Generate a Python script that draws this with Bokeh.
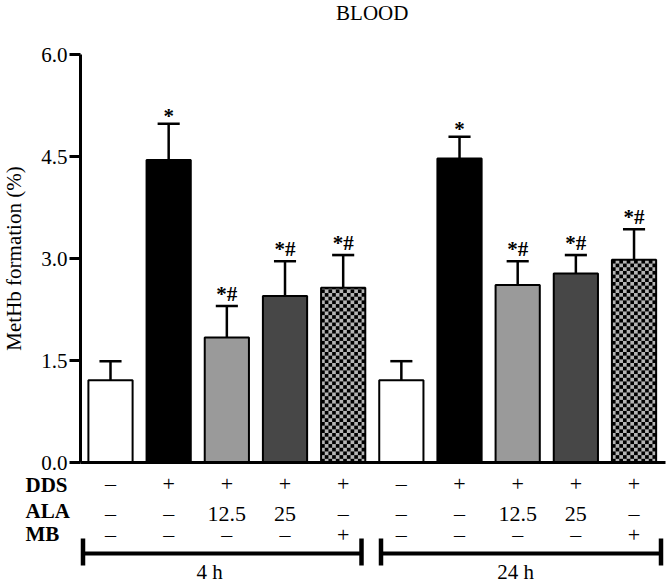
import math
from bokeh.plotting import figure
from bokeh.models import Range1d, LinearAxis, FixedTicker, PrintfTickFormatter
from bokeh.core.properties import value
from bokeh.embed import file_html
from bokeh.resources import INLINE

# ---------------- data ----------------
groups = ["4 h", "24 h"]
conditions = ["Control", "DDS", "DDS+ALA12.5", "DDS+ALA25", "DDS+MB"] * 2
metHb = [1.21, 4.45, 1.84, 2.45, 2.57, 1.21, 4.47, 2.61, 2.78, 2.98]
sem = [0.28, 0.53, 0.46, 0.51, 0.48, 0.28, 0.32, 0.35, 0.27, 0.45]
signif = ["", "*", "*#", "*#", "*#", "", "*", "*#", "*#", "*#"]
row_names = ["DDS", "ALA", "MB"]
dds_row = ["\u2013", "+", "+", "+", "+", "\u2013", "+", "+", "+", "+"]
ala_row = ["\u2013", "\u2013", "12.5", "25", "\u2013", "\u2013", "\u2013", "12.5", "25", "\u2013"]
mb_row = ["\u2013", "\u2013", "\u2013", "\u2013", "+", "\u2013", "\u2013", "\u2013", "\u2013", "+"]
y_ticks = [0.0, 1.5, 3.0, 4.5, 6.0]

# ---------------- styling ----------------
FONT = "Liberation Serif"
fills = ["white", "black", "#9a9a9a", "#474747", "#b4b4b4"] * 2
checker = [False, False, False, False, True] * 2

W, H = 666, 582
AXIS_PX = 80
AXIS_END_PX = 665
PX_PER_Y = 68.0
Y_ZERO_PX = 462
SPACING_PX = 58.17
FIRST_BAR_PX = 110

y0 = -(H - Y_ZERO_PX) / PX_PER_Y
y1 = Y_ZERO_PX / PX_PER_Y
x0 = -FIRST_BAR_PX / SPACING_PX
x1 = x0 + W / SPACING_PX


def py(px):
    """screen y (px from top) -> data y"""
    return (Y_ZERO_PX - px) / PX_PER_Y


def pxx(px):
    """screen x (px from left) -> data x"""
    return (px - FIRST_BAR_PX) / SPACING_PX


p = figure(width=W, height=H, x_range=Range1d(x0, x1), y_range=Range1d(y0, y1),
           x_axis_type=None, y_axis_type=None, toolbar_location=None,
           output_backend="svg", min_border_left=0, min_border_right=0,
           min_border_top=0, min_border_bottom=0, outline_line_color=None,
           background_fill_color="white", border_fill_color="white")

xs = list(range(len(metHb)))
BW = 0.76

# bars (fill)
p.vbar(x=xs, top=metHb, bottom=0, width=BW, fill_color=fills, line_color=None)

# checker pattern
NCOL = 12
cw = BW / NCOL
ch = (BW * SPACING_PX / NCOL) / PX_PER_Y
ql, qr, qb, qt = [], [], [], []
for i, (v, ck) in enumerate(zip(metHb, checker)):
    if not ck:
        continue
    nrows = math.ceil(v / ch)
    for r in range(nrows):
        for c in range(NCOL):
            if (r + c) % 2 == 0:
                ql.append(i - BW / 2 + c * cw)
                qr.append(i - BW / 2 + (c + 1) * cw)
                qb.append(r * ch)
                qt.append(min((r + 1) * ch, v))
p.quad(left=ql, right=qr, bottom=qb, top=qt, fill_color="black", line_color=None)

# bar outlines
p.vbar(x=xs, top=metHb, bottom=0, width=BW, fill_color=None, line_color="black", line_width=2)

# error bars (upper only)
upper = [v + e for v, e in zip(metHb, sem)]
p.segment(x0=xs, y0=metHb, x1=xs, y1=upper, line_color="black", line_width=2.5)
CAP = 0.38
p.segment(x0=[x - CAP / 2 for x in xs], y0=upper, x1=[x + CAP / 2 for x in xs], y1=upper,
          line_color="black", line_width=2.5)

# significance marks
p.text(x=xs, y=upper, text=signif, text_font=value(FONT), text_font_size="21px",
       text_font_style="bold", text_align="center", text_baseline="bottom",
       y_offset=[4 if s == "*" else 0 for s in signif], text_color="black")

# x axis line
p.segment(x0=[pxx(AXIS_PX)], y0=[0], x1=[pxx(AXIS_END_PX)], y1=[0],
          line_color="black", line_width=3)

# y axis (drawn at a fixed location inside the frame)
yax = LinearAxis(bounds=(0, 6), ticker=FixedTicker(ticks=y_ticks),
                 formatter=PrintfTickFormatter(format="%.1f"),
                 axis_label="MetHb formation (%)", fixed_location=pxx(AXIS_PX))
yax.axis_line_width = 3
yax.major_tick_line_width = 3
yax.major_tick_out = 11
yax.major_tick_in = 0
yax.minor_tick_out = 0
yax.minor_tick_in = 0
yax.major_label_standoff = 2
yax.major_label_text_font = FONT
yax.major_label_text_font_size = "21px"
yax.major_label_text_color = "black"
yax.axis_label_text_font = FONT
yax.axis_label_text_font_size = "21px"
yax.axis_label_text_font_style = "normal"
yax.axis_label_text_color = "black"
yax.axis_label_standoff = 12
p.add_layout(yax, "left")

# title
p.text(x=[(xs[0] + xs[-1]) / 2], y=[py(12)], text=["BLOOD"], text_font=value(FONT),
       text_font_size="21px", text_align="center", text_baseline="middle",
       text_color="black")

# treatment table
sym_mid_px = [483, 513, 534]
lab_mid_px = [484.5, 510.5, 533.5]
for row, mpx in zip([dds_row, ala_row, mb_row], sym_mid_px):
    p.text(x=xs, y=[py(mpx)] * len(xs), text=row, text_font=value(FONT),
           text_font_size="22px", text_align="center", text_baseline="middle",
           text_color="black")
p.text(x=[pxx(25)] * 3, y=[py(m) for m in lab_mid_px], text=row_names,
       text_font=value(FONT), text_font_size="21px", text_font_style="bold",
       text_align="left", text_baseline="middle", text_color="black")

# group brackets
br_left = [pxx(82.5), pxx(380.5)]
br_right = [pxx(361), pxx(660.5)]
br_y = py(553)
p.segment(x0=br_left, y0=[br_y] * 2, x1=br_right, y1=[br_y] * 2, line_color="black", line_width=4)
ends = br_left + br_right
p.segment(x0=ends, y0=[py(538)] * 4, x1=ends, y1=[py(565)] * 4, line_color="black", line_width=4.5)
p.text(x=[pxx(209), pxx(515)], y=[py(571)] * 2, text=groups, text_font=value(FONT),
       text_font_size="21px", text_align="center", text_baseline="middle",
       text_color="black")

open("out.html", "w").write(file_html(p, INLINE))
